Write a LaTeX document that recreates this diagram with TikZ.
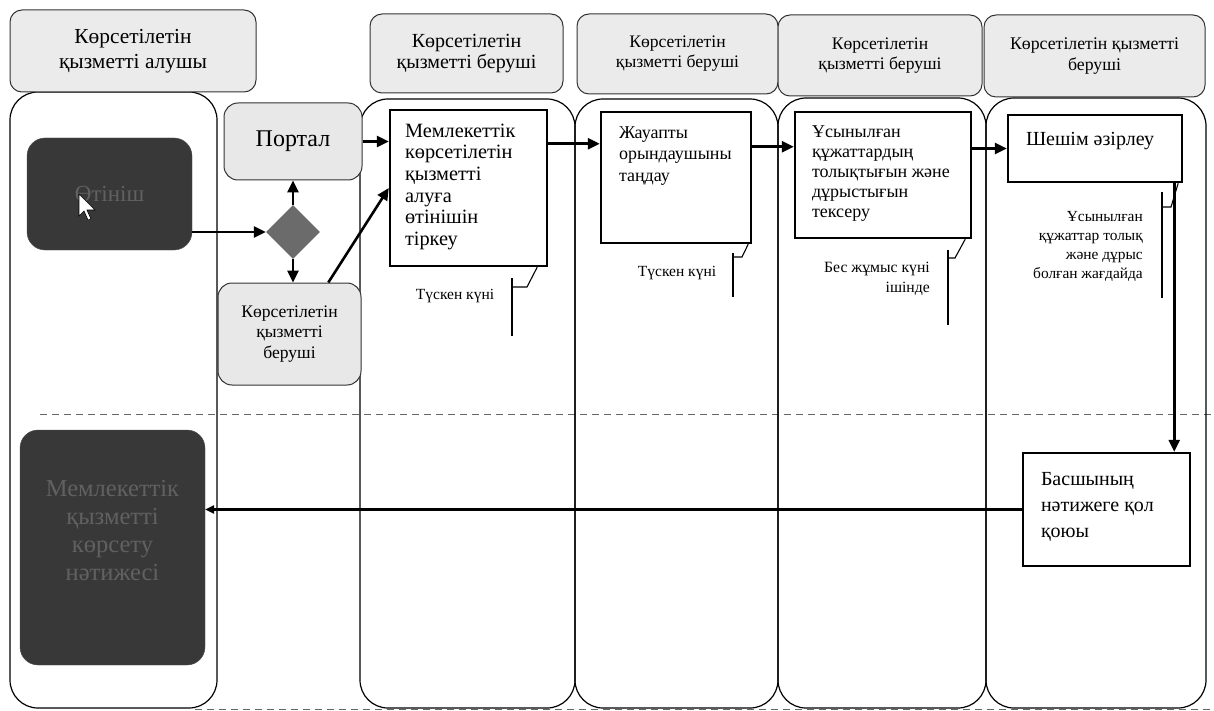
\documentclass[tikz,border=0pt]{standalone}
\usepackage{fontspec}
\setmainfont{Liberation Serif}
\usetikzlibrary{arrows.meta,shapes.geometric}

\tikzset{
    lane/.style={draw, line width=1.2pt, rounded corners=28pt},
    head/.style={draw=black!80, line width=1pt, rounded corners=12pt, fill=black!8, align=center, inner sep=0pt},
    grey/.style={draw=black!80, line width=1pt, rounded corners=14pt, fill=black!9, align=center, inner sep=0pt},
    dark/.style={draw=black!70, rounded corners=18pt, fill=black!78, text=black!62, align=center, inner sep=0pt},
    task/.style={draw, line width=2.4pt},
    note/.style={line width=1.1pt},
    flow/.style={line width=2.6pt, -{Triangle[length=12pt, width=11pt]}},
    sep/.style={dashed, dash pattern=on 7pt off 5pt, black!60, line width=1pt},
}
\newcommand{\boxtext}[3]{\parbox[c][#2][t]{#1}{\begin{tabular}[t]{@{}l@{}}#3\end{tabular}}}

\begin{document}
\begin{tikzpicture}[x=1pt, y=-1pt]
    \useasboundingbox (0,0) rectangle (1214,711);

    % lanes
    \draw[sep] (40,414) -- (1214,414);
    \draw[sep] (195,709) -- (1214,709);
    \draw[lane] (10,92) rectangle (217,708);
    \draw[lane] (360,99) rectangle (575,708);
    \draw[lane] (575,99) rectangle (778,708);
    \draw[lane] (778,98) rectangle (986,708);
    \draw[lane] (986,98) rectangle (1206,708);

    % headers
    \node[head, minimum width=246pt, minimum height=82pt, font=\fontsize{21.4}{25}\selectfont] (h1) at (133,51) {Көрсетілетін\\қызметті алушы};
    \node[head, minimum width=193pt, minimum height=79pt, font=\fontsize{20}{21}\selectfont] (h2) at (466.5,53.5) {Көрсетілетін\\қызметті беруші};
    \node[head, minimum width=201pt, minimum height=80pt, font=\fontsize{17.6}{20}\selectfont] (h3) at (677.5,54) {Көрсетілетін\\қызметті беруші};
    \node[head, minimum width=204pt, minimum height=81pt, font=\fontsize{17.6}{20}\selectfont] (h4) at (880,55.5) {Көрсетілетін\\қызметті беруші};
    \node[head, minimum width=221pt, minimum height=82pt, font=\fontsize{17.8}{21}\selectfont] (h5) at (1094.5,56) {Көрсетілетін қызметті\\беруші};

    % receiver
    \node[dark, minimum width=165pt, minimum height=112pt, font=\fontsize{23}{26}\selectfont] (app) at (109.5,194) {Өтініш};
    \draw[fill=white, line width=0.6pt] (79,194) -- (79,216) -- (84,211) -- (88,220) -- (91,219) -- (87,210) -- (95,210) -- cycle;
    \node[dark, minimum width=185pt, minimum height=235pt, font=\fontsize{24.5}{28}\selectfont] (res) at (112.5,547.5)
        {\parbox[c][200pt][c]{180pt}{\centering Мемлекеттік\\қызметті\\көрсету\\нәтижесі\par\vspace{34pt}}};

    % portal / provider
    \node[grey, minimum width=138pt, minimum height=77pt, font=\fontsize{24}{28}\selectfont] (portal) at (293,141.5) {Портал};
    \node[diamond, fill=black!58, minimum width=54pt, minimum height=54pt, inner sep=0pt] (dec) at (293,232) {};
    \node[grey, minimum width=143pt, minimum height=102pt, font=\fontsize{17.6}{20.5}\selectfont] (prov) at (289.5,334) {Көрсетілетін\\қызметті\\беруші};

    % tasks
    \node[task, inner xsep=15pt, inner ysep=12pt, font=\fontsize{20.3}{21.7}\selectfont] (reg) at (468.5,188)
        {\boxtext{127pt}{132pt}{Мемлекеттік\\көрсетілетін\\қызметті\\алуға\\өтінішін\\тіркеу}};
    \node[task, inner xsep=18pt, inner ysep=11pt, font=\fontsize{18}{21.5}\selectfont] (ask) at (676,177.5)
        {\boxtext{114pt}{109pt}{Жауапты\\орындаушыны\\таңдау}};
    \node[task, inner xsep=17pt, inner ysep=12pt, font=\fontsize{18}{20}\selectfont] (chk) at (883,175)
        {\boxtext{142pt}{102pt}{Ұсынылған\\құжаттардың\\толықтығын және\\дұрыстығын\\тексеру}};
    \node[task, inner xsep=18pt, inner ysep=14pt, font=\fontsize{20}{24}\selectfont] (sol) at (1095,148.5)
        {\boxtext{138pt}{39pt}{Шешім әзірлеу}};
    \node[task, inner xsep=18pt, inner ysep=14pt, font=\fontsize{20}{26}\selectfont] (sign) at (1106.5,509.5)
        {\boxtext{131pt}{85pt}{Басшының\\нәтижеге қол\\қоюы}};

    % flows
    \draw[flow] (app.east |- dec.west) -- (dec.west);
    \draw[flow] (dec.north) -- (portal.south);
    \draw[flow] (dec.south) -- (dec.south |- prov.north);
    \draw[flow] (portal.east) -- (portal.east -| reg.west);
    \draw[flow] (prov.53) -- (reg.west);
    \coordinate (f1) at ([yshift=-33pt]ask.north west);
    \draw[flow] (reg.east |- f1) -- (f1);
    \coordinate (f2) at ([yshift=-36pt]chk.north west);
    \draw[flow] (ask.east |- f2) -- (f2);
    \draw[flow] (chk.east |- sol.west) -- (sol.west);
    \coordinate (f3) at ([xshift=-17pt]sign.north east);
    \draw[flow] (sol.south -| f3) -- (f3);
    \draw[flow, -{Triangle[length=9pt, width=8pt]}] (sign.west) -- (sign.west -| res.east);

    % notes
    \node[font=\fontsize{15.5}{19}\selectfont] (n1) at (455,296) {Түскен күні};
    \draw[note] ([xshift=-11pt]reg.south east) -- (527,287) -- (512,287);
    \draw[note] (512,278) -- (512,336);
    \node[font=\fontsize{15.5}{19}\selectfont] (n2) at (677,273) {Түскен күні};
    \draw[note] ([xshift=-4pt]ask.south east) -- (742,257) -- (733,257);
    \draw[note] (733,253) -- (733,297);
    \node[anchor=north east, align=right, inner sep=0pt, font=\fontsize{15.7}{20}\selectfont] (n3) at (930,262) {Бес жұмыс күні\\ішінде};
    \draw[note] ([xshift=-7pt]chk.south east) -- (955,258) -- (948,258);
    \draw[note] (948,250) -- (948,325);
    \node[anchor=north east, align=right, inner sep=0pt, font=\fontsize{15.4}{19}\selectfont] (n4) at (1143,211) {Ұсынылған\\құжаттар толық\\және дұрыс\\болған жағдайда};
    \draw[note] ([xshift=-5pt]sol.south east) -- (1171,207) -- (1162,207);
    \draw[note] (1162,192) -- (1162,298);
\end{tikzpicture}
\end{document}
